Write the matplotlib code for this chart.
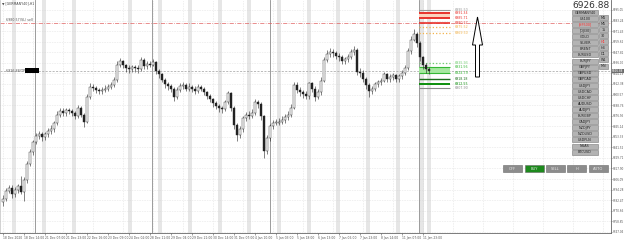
import matplotlib
matplotlib.use('Agg')
import matplotlib.pyplot as plt
import matplotlib.patches as mpatches
import numpy as np

plt.rcParams['font.family'] = ['DejaVu Sans']

# ---- data ----
symbol = 'GERMANY40'
timeframe = 'H1'
last_price = 6926.88
first_open = 6780

closes = [6784, 6793, 6796, 6789, 6794, 6798, 6792, 6805, 6823, 6836,
          6847, 6854, 6857, 6853, 6856, 6860, 6862, 6869, 6878, 6882,
          6880, 6883, 6882, 6880, 6876, 6886, 6878, 6870, 6898, 6909,
          6908, 6906, 6904, 6906, 6907, 6909, 6911, 6917, 6934, 6938,
          6933, 6930, 6929, 6931, 6930, 6929, 6939, 6932, 6935, 6934,
          6937, 6927, 6923, 6917, 6912, 6910, 6907, 6898, 6906, 6910,
          6911, 6907, 6909, 6907, 6905, 6909, 6907, 6903, 6899, 6895,
          6891, 6888, 6885, 6884, 6892, 6902, 6886, 6867, 6855, 6862,
          6874, 6878, 6877, 6880, 6892, 6890, 6876, 6838, 6852, 6865,
          6869, 6869, 6870, 6872, 6875, 6878, 6886, 6911, 6906, 6903,
          6901, 6899, 6913, 6907, 6898, 6903, 6916, 6939, 6946, 6948,
          6947, 6944, 6942, 6938, 6940, 6943, 6948, 6950, 6926, 6925,
          6918, 6911, 6904, 6907, 6912, 6914, 6916, 6923, 6918, 6920,
          6922, 6918, 6921, 6925, 6930, 6949, 6962, 6968, 6958, 6942,
          6933, 6929, 6926.88]
highs = [6788, 6796, 6800, 6799, 6797, 6801, 6809, 6808, 6826, 6840,
         6850, 6858, 6860, 6859, 6859, 6863, 6866, 6871, 6882, 6886,
         6885, 6886, 6886, 6884, 6882, 6889, 6888, 6880, 6901, 6913,
         6912, 6910, 6908, 6909, 6911, 6912, 6915, 6920, 6938, 6941,
         6939, 6935, 6933, 6934, 6933, 6933, 6943, 6941, 6938, 6938,
         6940, 6938, 6929, 6925, 6919, 6915, 6912, 6909, 6909, 6913,
         6915, 6913, 6913, 6911, 6910, 6912, 6911, 6909, 6905, 6901,
         6897, 6893, 6890, 6888, 6894, 6905, 6903, 6888, 6869, 6865,
         6877, 6881, 6882, 6884, 6895, 6894, 6892, 6878, 6855, 6868,
         6872, 6873, 6874, 6876, 6879, 6882, 6890, 6915, 6914, 6909,
         6906, 6904, 6915, 6915, 6910, 6907, 6920, 6943, 6950, 6952,
         6951, 6949, 6947, 6945, 6943, 6946, 6951, 6955, 6952, 6930,
         6928, 6920, 6913, 6910, 6915, 6917, 6919, 6926, 6925, 6924,
         6925, 6924, 6924, 6928, 6934, 6953, 6966, 6974, 6970, 6960,
         6944, 6936, 6931]
lows = [6776, 6782, 6790, 6785, 6786, 6791, 6789, 6782, 6802, 6821,
        6833, 6845, 6851, 6849, 6850, 6853, 6857, 6859, 6866, 6875,
        6877, 6877, 6879, 6876, 6873, 6874, 6875, 6864, 6869, 6895,
        6904, 6902, 6901, 6901, 6903, 6904, 6907, 6909, 6915, 6931,
        6930, 6926, 6925, 6926, 6926, 6925, 6927, 6929, 6929, 6931,
        6932, 6924, 6919, 6914, 6908, 6906, 6903, 6893, 6895, 6903,
        6907, 6904, 6905, 6903, 6901, 6902, 6904, 6900, 6896, 6892,
        6887, 6884, 6881, 6880, 6882, 6890, 6882, 6862, 6849, 6852,
        6859, 6871, 6873, 6874, 6878, 6886, 6872, 6830, 6834, 6849,
        6862, 6866, 6867, 6868, 6869, 6872, 6875, 6884, 6902, 6899,
        6897, 6895, 6896, 6903, 6893, 6895, 6900, 6914, 6937, 6943,
        6943, 6940, 6938, 6935, 6935, 6937, 6940, 6945, 6922, 6920,
        6915, 6907, 6898, 6901, 6904, 6909, 6911, 6914, 6915, 6915,
        6917, 6915, 6915, 6918, 6922, 6928, 6946, 6960, 6954, 6938,
        6929, 6925, 6924]

date_labels = ['18 Dec 2020', '18 Dec 14:00', '21 Dec 07:00', '21 Dec 23:00',
               '22 Dec 16:00', '23 Dec 09:00', '24 Dec 02:00', '28 Dec 11:00',
               '29 Dec 04:00', '29 Dec 21:00', '30 Dec 14:00', '31 Dec 07:00',
               '4 Jan 10:00', '5 Jan 03:00', '5 Jan 18:00', '6 Jan 13:00',
               '7 Jan 06:00', '7 Jan 23:00', '8 Jan 14:00', '11 Jan 07:00',
               '11 Jan 23:00']
price_ticks = [6995.05, 6983.24, 6971.43, 6959.62, 6947.81, 6936.00, 6924.19,
               6912.38, 6900.57, 6888.76, 6876.95, 6865.14, 6853.33, 6841.52,
               6829.71, 6817.90, 6806.09, 6794.28, 6782.47, 6770.66, 6758.85,
               6747.04]

# session shading and week separators (bar index)
session_bands = [3, 13, 23, 41.7, 51.7, 61.7, 71.7, 81.3, 91.3, 101.3,
                 111, 121, 131, 139, 141.3]
week_lines = [10.7, 49.7, 89, 138.7]

# levels of the trade panel on the right
level_prices = [6995.50, 6991.34, 6985.71, 6980.57, 6975.52, 6969.50,
                6935.93, 6931.56, 6924.79, 6918.18, 6912.55, 6907.90]
level_colors = ['#9a9a9a', '#e8322c', '#e8322c', '#e8322c', '#f2b24a', '#f2b24a',
                '#6fcf6f', '#35b835', '#35b835', '#1d6e1d', '#0c8f0c', '#8a8a8a']
level_styles = ['-', '-', '-', '-', ':', ':', ':', '-', '-', '-', '-', '-']
level_widths = [0.8, 1.4, 1.4, 1.2, 0.9, 0.9, 0.9, 0.8, 0.8, 1.0, 1.4, 0.8]
sl_price = 6980.57

symbols = ['GERMANY40', 'US100', '[SP500]', '[DJI30]', 'GOLD', 'SILVER', 'BRENT',
           'EURUSD', 'EURJPY', 'GBPJPY', 'GBPUSD', 'GBPCAD', 'USDJPY', 'USDCAD',
           'USDCHF', 'AUDUSD', 'AUDJPY', 'EURGBP', 'CADJPY', 'NZDJPY', 'NZDUSD',
           'USDPLN', 'NGAS', 'BTCUSD']
timeframes = ['M1', 'M5', '15', '30', 'H1', 'H4', 'D1', 'W1', 'MN']
trade_buttons = ['OFF', 'BUY', 'SELL', 'H', 'AUTO']

# ---- layout ----
W, H = 625, 245
fig = plt.figure(figsize=(W / 100, H / 100), dpi=100)
fig.patch.set_facecolor('white')

ax = fig.add_axes([0, 12 / H, 611 / W, 233 / H])
ax.set_xlim(-1, -1 + 611 / 3)
ax.set_ylim(6745.8, 7006.2)

for b in session_bands:
    ax.axvspan(b, b + 1.2, color='#e6e6e6', lw=0, zorder=0)
for w in week_lines:
    ax.axvline(w, color='#8c8c8c', lw=0.6, zorder=1)

for p in price_ticks:
    ax.axhline(p, color='#d0d0d0', lw=0.4, ls=(0, (1, 2)), zorder=0.5)
for g in range(0, 201, 10):
    ax.axvline(g, color='#d0d0d0', lw=0.4, ls=(0, (1, 2)), zorder=0.5)

# candles
c = np.array(closes, dtype=float)
hi = np.array(highs, dtype=float)
lo = np.array(lows, dtype=float)
o = np.r_[first_open, c[:-1]]
x = np.arange(len(c))
up = c >= o
ax.vlines(x, lo, hi, color='#222', lw=0.4, zorder=3)
body = np.maximum(np.abs(c - o), 0.6)
ax.bar(x[up], body[up], bottom=o[up], width=0.5, color='white',
       edgecolor='#222', lw=0.3, zorder=4)
ax.bar(x[~up], body[~up], bottom=c[~up], width=0.5, color='#222',
       edgecolor='#222', lw=0.3, zorder=4)

# stop loss and current price lines across the chart
ax.axhline(sl_price, color='#e06060', lw=0.5, ls=(0, (6, 2, 1, 2)), zorder=2)
ax.axhline(last_price, color='#a0a0a0', lw=0.5, ls=(0, (3, 2)), zorder=2)
ax.text(1, sl_price + 1, f'{sl_price:.2f}(SL) sell', fontsize=2.3, color='#555',
        va='bottom', ha='left', zorder=5)
ax.text(1, last_price, f'{last_price:.2f}(TP) buy', fontsize=2.3, color='#555',
        va='center', ha='left', zorder=5)

# trade levels
lx0, lx1 = 138.7, 149
ax.fill_between([lx0, lx1], level_prices[2], level_prices[1], color='#fbd3bf', lw=0, zorder=2)
ax.fill_between([lx0, lx1], level_prices[8], level_prices[7], color='#a6e8a0', lw=0, zorder=2)
for p, col, st, lw in zip(level_prices, level_colors, level_styles, level_widths):
    ax.hlines(p, lx0, lx1, color=col, lw=lw, linestyles=st, zorder=2.5)
    ax.text(lx1 + 1.7, p, f'{p:.2f}', fontsize=2.3, color=col, va='center', ha='left')

# axes cosmetics
ax.spines['top'].set_visible(False)
ax.spines['left'].set_color('#c0c0c0')
ax.spines['left'].set_linewidth(0.5)
ax.spines['bottom'].set_color('#666')
ax.spines['right'].set_color('#666')
ax.spines['bottom'].set_linewidth(0.6)
ax.spines['right'].set_linewidth(0.6)
ax.yaxis.tick_right()
ax.set_yticks(price_ticks)
ax.set_yticklabels([f'{p:.2f}' for p in price_ticks])
ax.set_xticks(np.arange(len(date_labels)) * 7)
ax.set_xticklabels(date_labels)
for lbl in ax.get_xticklabels():
    lbl.set_ha('left')
ax.tick_params(axis='x', labelsize=2.2, length=1.2, width=0.4, pad=0.8,
               colors='#555')
ax.tick_params(axis='y', labelsize=1.95, length=0.8, width=0.4, pad=0.5,
               colors='#555')
ax.annotate(f'{last_price:.2f}', xy=(1.002, last_price),
            xycoords=('axes fraction', 'data'), fontsize=1.95, color='white',
            va='center', ha='left', annotation_clip=False,
            bbox=dict(boxstyle='square,pad=0.12', fc='#6e6e6e', ec='none'))

# ---- overlay in pixel coordinates for the panel objects ----
ov = fig.add_axes([0, 0, 1, 1])
ov.set_xlim(0, W)
ov.set_ylim(H, 0)
ov.axis('off')

ov.text(2, 3.5, f'\u25bc [{symbol}],{timeframe}', fontsize=2.3, color='#444', va='center')
ov.add_patch(mpatches.Rectangle((25, 68), 14, 5, color='black', lw=0))

ov.text(610, 5, f'{last_price:.2f}', fontsize=6.5, color='#333', ha='right', va='center')

def button(x0, y0, w, h, label, fc='#b3b3b3', tc='#222', ec='#7a7a7a', size=2.4):
    ov.add_patch(mpatches.Rectangle((x0, y0), w, h, fc=fc, ec=ec, lw=0.4))
    ov.text(x0 + w / 2, y0 + h / 2 + 0.2, label, fontsize=size, color=tc,
            ha='center', va='center')

for k, s in enumerate(symbols):
    button(572, 10 + 6.07 * k, 26, 5, s, tc='#ff3030' if s == '[SP500]' else '#222')
for k, t in enumerate(timeframes):
    button(599, 15 + 6.07 * k, 8.5, 5, t, tc='#ff3030' if t == timeframe else '#222')

bx = [503, 524.5, 546, 567, 588.5]
for xx, t in zip(bx, trade_buttons):
    fc = '#1d8a1d' if t == 'BUY' else '#8c8c8c'
    button(xx, 165, 19, 7, t, fc=fc, tc='#e8e8e8', ec='#6a6a6a', size=2.6)

# big outlined arrow
arrow = [(477.5, 17), (482.5, 45), (479.5, 45), (479.5, 77),
         (475.5, 77), (475.5, 45), (472.5, 45)]
ov.add_patch(mpatches.Polygon(arrow, closed=True, fc='white', ec='black', lw=0.7))

fig.savefig('out.png', dpi=100, facecolor='white')
